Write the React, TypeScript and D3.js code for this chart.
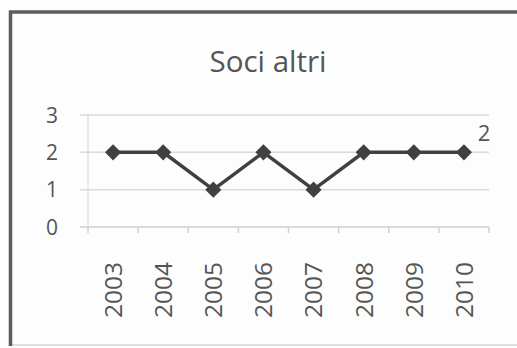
import React from "react";
import * as d3 from "d3";

const years = ["2003", "2004", "2005", "2006", "2007", "2008", "2009", "2010"];
const values = [2, 2, 1, 2, 1, 2, 2, 2];
const yTicks = [0, 1, 2, 3];
const title = "Soci altri";

const W = 517;
const H = 348;
const FONT = "'Open Sans', sans-serif";

export default function App() {
  const x = d3.scaleBand<string>().domain(years).range([88, 489]);
  const y = d3.scaleLinear().domain([0, 3]).range([227, 115]);
  const cx = (d: string) => (x(d) ?? 0) + x.bandwidth() / 2;

  const line = d3
    .line<number>()
    .x((_, i) => cx(years[i]))
    .y((v) => y(v));

  const diamond = d3.symbol().type(d3.symbolSquare).size(130)();

  const lastIdx = values.length - 1;
  const boundaries = [...years.map((d) => x(d) ?? 0), x.range()[1]];

  return (
    <svg
      width={W}
      height={H}
      style={{ position: "absolute", left: 0, top: 0, background: "#fdfdfd" }}
    >
      {/* chart frame */}
      <line x1={W} y1={345} x2={10} y2={345} stroke="#d6d6d6" strokeWidth={1.5} />
      <path d={`M10.5,346 V12 H${W}`} fill="none" stroke="#5c5c5c" strokeWidth={3.5} />

      <text
        x={268}
        y={72}
        textAnchor="middle"
        fontFamily={FONT}
        fontSize={29.5}
        fill="#555555"
      >
        {title}
      </text>

      {/* gridlines and y ticks */}
      {yTicks.map((t) => (
        <g key={t}>
          <line
            x1={80}
            x2={489}
            y1={y(t)}
            y2={y(t)}
            stroke={t === 0 ? "#cfcfcf" : "#dadada"}
            strokeWidth={1.5}
          />
          <text
            x={58}
            y={y(t)}
            dy="0.36em"
            textAnchor="end"
            fontFamily={FONT}
            fontSize={21}
            fill="#555555"
          >
            {t}
          </text>
        </g>
      ))}
      <line x1={88} x2={88} y1={115} y2={227} stroke="#dadada" strokeWidth={1.2} />

      {/* x ticks */}
      {boundaries.map((b, i) => (
        <line key={i} x1={b} x2={b} y1={227} y2={233} stroke="#d0d0d0" strokeWidth={1.5} />
      ))}
      {years.map((d) => (
        <text
          key={d}
          transform={`translate(${cx(d)},${318}) rotate(-90)`}
          dy="0.36em"
          textAnchor="start"
          fontFamily={FONT}
          fontSize={24.5}
          fill="#555555"
        >
          {d}
        </text>
      ))}

      {/* series */}
      <path d={line(values) ?? ""} fill="none" stroke="#404040" strokeWidth={3.5} />
      {values.map((v, i) => (
        <path
          key={i}
          d={diamond ?? ""}
          transform={`translate(${cx(years[i])},${y(v)}) rotate(45)`}
          fill="#404040"
        />
      ))}
      <text
        x={cx(years[lastIdx]) + 20}
        y={y(values[lastIdx]) - 11}
        textAnchor="middle"
        fontFamily={FONT}
        fontSize={22}
        fill="#555555"
      >
        {values[lastIdx]}
      </text>
    </svg>
  );
}
